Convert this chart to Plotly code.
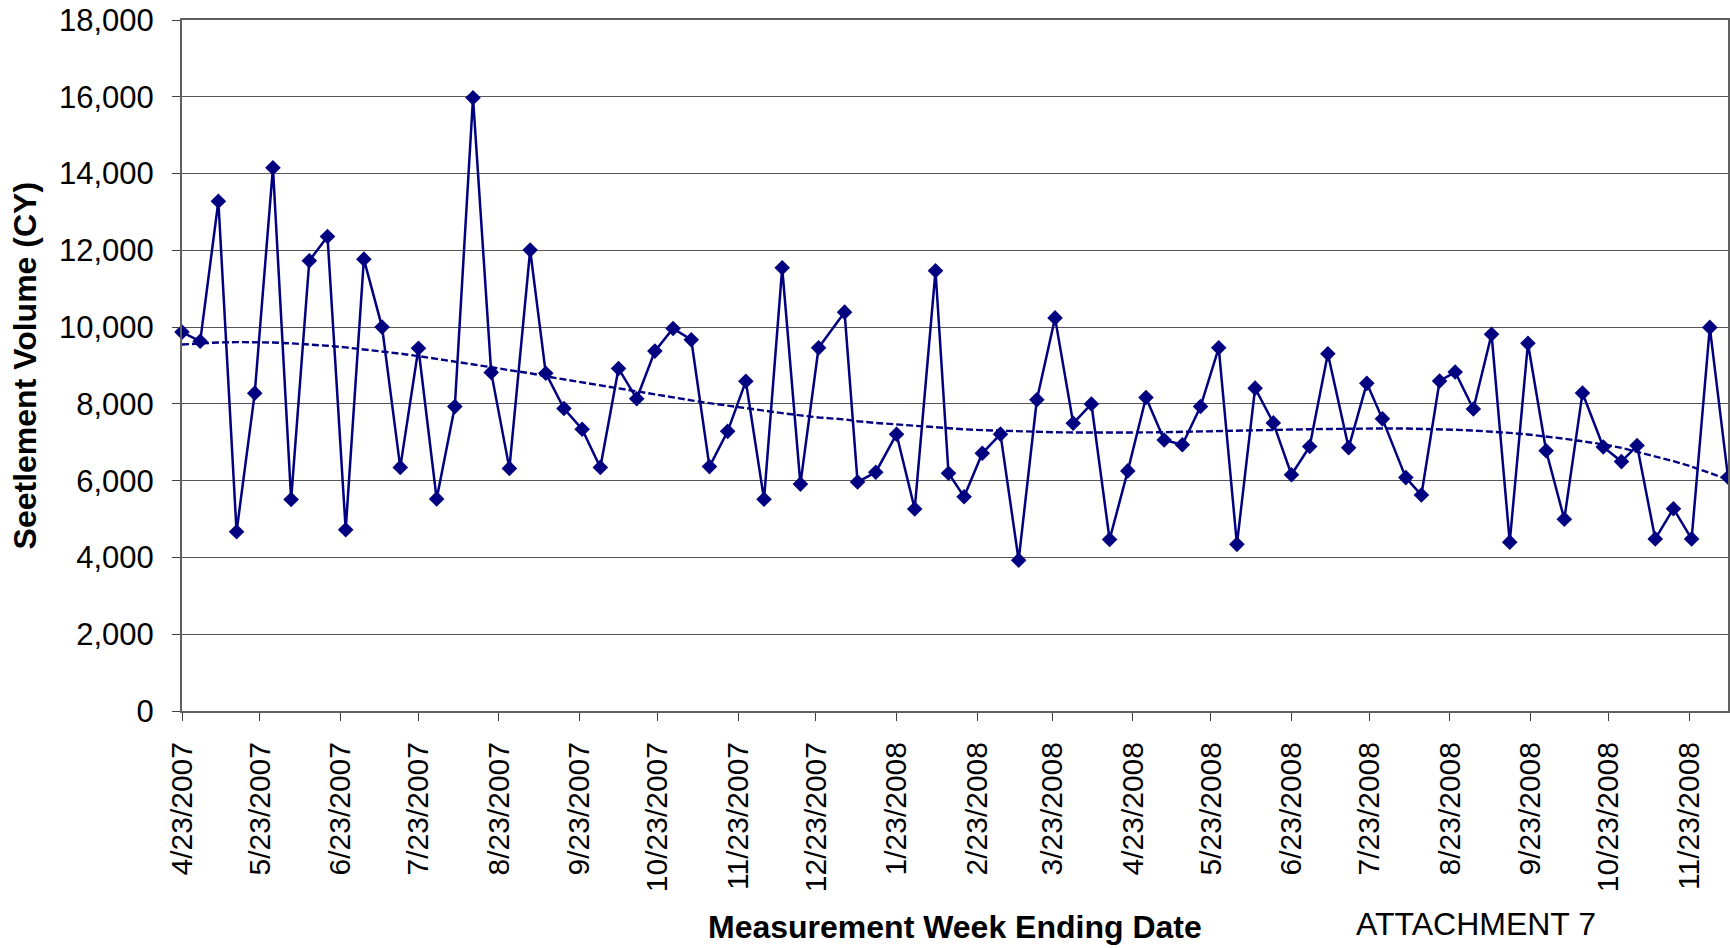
import numpy as np
import plotly.graph_objects as go

# ---- data ----
week_dates = [
    "2007-04-23", "2007-04-30", "2007-05-07", "2007-05-14", "2007-05-21", "2007-05-28",
    "2007-06-04", "2007-06-11", "2007-06-18", "2007-06-25", "2007-07-02", "2007-07-09",
    "2007-07-16", "2007-07-23", "2007-07-30", "2007-08-06", "2007-08-13", "2007-08-20",
    "2007-08-27", "2007-09-04", "2007-09-10", "2007-09-17", "2007-09-24", "2007-10-01",
    "2007-10-08", "2007-10-15", "2007-10-22", "2007-10-29", "2007-11-05", "2007-11-12",
    "2007-11-19", "2007-11-26", "2007-12-03", "2007-12-10", "2007-12-17", "2007-12-24",
    "2008-01-03", "2008-01-08", "2008-01-15", "2008-01-23", "2008-01-30", "2008-02-07",
    "2008-02-12", "2008-02-18", "2008-02-25", "2008-03-03", "2008-03-10", "2008-03-17",
    "2008-03-24", "2008-03-31", "2008-04-07", "2008-04-14", "2008-04-21", "2008-04-28",
    "2008-05-05", "2008-05-12", "2008-05-19", "2008-05-26", "2008-06-02", "2008-06-09",
    "2008-06-16", "2008-06-23", "2008-06-30", "2008-07-07", "2008-07-15", "2008-07-22",
    "2008-07-28", "2008-08-06", "2008-08-12", "2008-08-19", "2008-08-25", "2008-09-01",
    "2008-09-08", "2008-09-15", "2008-09-22", "2008-09-29", "2008-10-06", "2008-10-13",
    "2008-10-21", "2008-10-28", "2008-11-03", "2008-11-10", "2008-11-17", "2008-11-24",
    "2008-12-01", "2008-12-08",
]

settlement_cy = [
    9870, 9630, 13280, 4670, 8280, 14150,
    5510, 11730, 12360, 4720, 11770, 10000,
    6345, 9450, 5525, 7930, 15975, 8820,
    6320, 12010, 8800, 7880, 7338, 6345,
    8920, 8135, 9375, 9965, 9670, 6366,
    7285, 8590, 5515, 11545, 5910, 9460,
    10390, 5965, 6220, 7210, 5263, 11467,
    6195, 5580, 6713, 7212, 3928, 8108,
    10240, 7494, 7998, 4467, 6255, 8168,
    7061, 6935, 7932, 9462, 4341, 8410,
    7505, 6155, 6890, 9307, 6860, 8535,
    7610, 6080, 5625, 8596, 8829, 7868,
    9815, 4398, 9578, 6778, 4997, 8282,
    6878, 6497, 6915, 4483, 5270, 4483,
    9992, 6090,
]

tick_dates = [
    "2007-04-23", "2007-05-23", "2007-06-23", "2007-07-23", "2007-08-23", "2007-09-23",
    "2007-10-23", "2007-11-23", "2007-12-23", "2008-01-23", "2008-02-23", "2008-03-23",
    "2008-04-23", "2008-05-23", "2008-06-23", "2008-07-23", "2008-08-23", "2008-09-23",
    "2008-10-23", "2008-11-23",
]
tick_labels = [
    "4/23/2007", "5/23/2007", "6/23/2007", "7/23/2007", "8/23/2007", "9/23/2007",
    "10/23/2007", "11/23/2007", "12/23/2007", "1/23/2008", "2/23/2008", "3/23/2008",
    "4/23/2008", "5/23/2008", "6/23/2008", "7/23/2008", "8/23/2008", "9/23/2008",
    "10/23/2008", "11/23/2008",
]

y_ticks = [0, 2000, 4000, 6000, 8000, 10000, 12000, 14000, 16000, 18000]

# ---- 4th-order polynomial trendline (Excel style, x = point index) ----
y_arr = np.array(settlement_cy, dtype=float)
x_idx = np.arange(1, len(y_arr) + 1) / 10.0
trend = np.polyval(np.polyfit(x_idx, y_arr, 4), x_idx)

NAVY = "#000080"
FONT = "Liberation Sans, Arial, sans-serif"

fig = go.Figure()
fig.add_trace(go.Scatter(
    x=week_dates, y=trend, mode="lines",
    line=dict(color=NAVY, width=2.4, dash="7px,3px"),
    hoverinfo="skip", showlegend=False,
))
fig.add_trace(go.Scatter(
    x=week_dates, y=settlement_cy, mode="lines+markers",
    line=dict(color=NAVY, width=2.5),
    marker=dict(symbol="diamond", size=12, color=NAVY),
    cliponaxis=False,
    showlegend=False,
))

fig.update_layout(
    width=1730, height=948,
    margin=dict(l=182, r=2, t=20, b=237),
    paper_bgcolor="white", plot_bgcolor="white",
    xaxis=dict(
        type="date",
        range=[week_dates[0], week_dates[-1]],
        tickvals=tick_dates, ticktext=tick_labels,
        tickangle=-90,
        tickfont=dict(family=FONT, size=30, color="black"),
        ticks="outside", ticklen=8, tickcolor="#404040", tickwidth=1,
        ticklabelstandoff=9,
        showgrid=False,
        showline=True, linecolor="#606060", linewidth=2, mirror=True,
        zeroline=False, automargin=False,
    ),
    yaxis=dict(
        range=[0, 18000],
        tickvals=y_ticks, tickformat=",d",
        tickfont=dict(family=FONT, size=31, color="black"),
        ticks="outside", ticklen=8, tickcolor="#404040", tickwidth=1,
        ticklabelstandoff=12,
        showgrid=True, gridcolor="#555555", gridwidth=1,
        showline=True, linecolor="#606060", linewidth=2, mirror=True,
        zeroline=False, automargin=False,
    ),
    annotations=[
        dict(text="<b>Measurement Week Ending Date</b>", xref="paper", yref="paper",
             x=0.5, y=-0.3126, xanchor="center", yanchor="middle", showarrow=False,
             font=dict(family=FONT, size=32, color="black")),
        dict(text="<b>Seetlement Volume (CY)</b>", xref="paper", yref="paper",
             x=-0.1016, y=0.5, xanchor="center", yanchor="middle", showarrow=False,
             textangle=-90,
             font=dict(family=FONT, size=32, color="black")),
        dict(text="ATTACHMENT 7", xref="paper", yref="paper",
             x=0.837, y=-0.308, xanchor="center", yanchor="middle", showarrow=False,
             font=dict(family=FONT, size=32, color="black")),
    ],
)

fig.write_html("out.html", config={"displayModeBar": False},
               post_script="document.body.style.margin='0px';")
